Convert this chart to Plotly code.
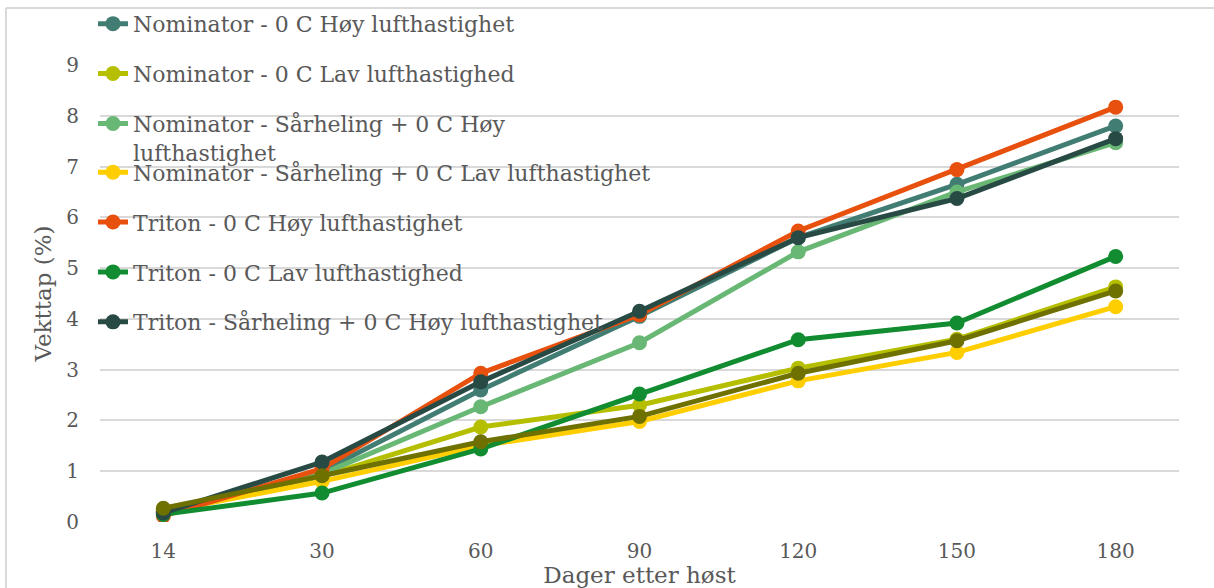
import plotly.graph_objects as go

categories = ["14", "30", "60", "90", "120", "150", "180"]

series_names = [
    "Nominator - 0 C Høy lufthastighet",
    "Nominator - 0 C Lav lufthastighed",
    "Nominator - Sårheling + 0 C Høy<br>lufthastighet",
    "Nominator - Sårheling + 0 C Lav lufthastighet",
    "Triton - 0 C Høy lufthastighet",
    "Triton - 0 C Lav lufthastighed",
    "Triton - Sårheling + 0 C Høy lufthastighet",
    "Triton - Sårheling + 0 C Lav lufthastighet",
]

nom_hoy = [0.20, 1.00, 2.60, 4.05, 5.60, 6.65, 7.80]
nom_lav = [0.25, 0.90, 1.87, 2.30, 3.03, 3.60, 4.63]
nom_sar_hoy = [0.20, 0.95, 2.27, 3.53, 5.32, 6.50, 7.47]
nom_sar_lav = [0.20, 0.80, 1.50, 1.98, 2.78, 3.34, 4.24]
tri_hoy = [0.12, 1.05, 2.93, 4.08, 5.73, 6.94, 8.17]
tri_lav = [0.15, 0.57, 1.44, 2.52, 3.59, 3.92, 5.23]
tri_sar_hoy = [0.18, 1.18, 2.76, 4.15, 5.60, 6.37, 7.55]
tri_sar_lav = [0.27, 0.91, 1.58, 2.08, 2.93, 3.57, 4.55]

values = [nom_hoy, nom_lav, nom_sar_hoy, nom_sar_lav, tri_hoy, tri_lav, tri_sar_hoy, tri_sar_lav]
colors = ["#427D73", "#B5BF00", "#69B774", "#FFCE00", "#E8500E", "#118C30", "#284A45", "#6E7000"]
legends = ["legend", "legend", "legend", "legend2", "legend2", "legend2", "legend2", None]

FONT = "DejaVu Serif"
GRAY = "#595959"

fig = go.Figure()
for i, (name, vals, col, lg) in enumerate(zip(series_names, values, colors, legends)):
    fig.add_trace(go.Scatter(
        x=categories, y=vals, name=name, mode="lines+markers",
        line=dict(color=col, width=5),
        marker=dict(color=col, size=15),
        legendgroup=f"g{i}",
        legend=lg if lg else "legend",
        showlegend=lg is not None,
    ))

legend_common = dict(
    font=dict(family=FONT, size=22, color=GRAY),
    bgcolor="rgba(0,0,0,0)",
    tracegroupgap=18.3,
    valign="top",
    xanchor="left", yanchor="top",
    itemclick=False,
)

fig.update_layout(
    width=1214, height=588,
    margin=dict(l=100, r=35, t=65, b=66, autoexpand=False),
    paper_bgcolor="white", plot_bgcolor="white",
    font=dict(family=FONT, color=GRAY, size=20),
    legend=dict(x=-0.0065, y=1.1360, **legend_common),
    legend2=dict(x=-0.0065, y=0.8111, **legend_common),
    xaxis=dict(
        type="category", showgrid=False, zeroline=False, showline=False,
        ticks="", ticklabelstandoff=15, automargin=False,
        tickfont=dict(family=FONT, size=20, color=GRAY),
        title=dict(text="Dager etter høst", font=dict(family=FONT, size=23, color=GRAY), standoff=0),
    ),
    yaxis=dict(
        range=[0, 9], dtick=1, showgrid=True, gridcolor="#D9D9D9", gridwidth=2,
        zeroline=False, showline=False, ticks="", ticklabelstandoff=20, automargin=False,
        tickfont=dict(family=FONT, size=20, color=GRAY),
        title=dict(text="Vekttap (%)", font=dict(family=FONT, size=23, color=GRAY), standoff=8),
    ),
    shapes=[
        dict(type="line", xref="paper", yref="paper", x0=-0.0871, x1=1.04, y0=1.1247, y1=1.1247,
             line=dict(color="#D9D9D9", width=2)),
        dict(type="line", xref="paper", yref="paper", x0=-0.0871, x1=-0.0871, y0=1.1247, y1=-0.16,
             line=dict(color="#D9D9D9", width=2)),
    ],
)

fig.write_html("out.html")
